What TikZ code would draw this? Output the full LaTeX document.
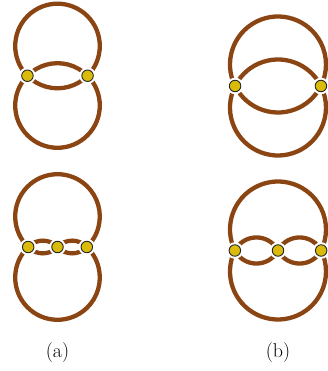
\documentclass[tikz,border=0pt]{standalone}
\usepackage{tikz}
\definecolor{edgebrown}{RGB}{139,69,19}
\definecolor{dotyellow}{RGB}{218,186,10}
\tikzset{
  edge/.style={draw=edgebrown, line width=4.3pt},
  vtx/.style={circle, fill=dotyellow, draw=black!85, line width=0.9pt,
    minimum size=11.5pt, inner sep=0pt, preaction={draw=white, line width=5pt}},
  lab/.style={font=\fontsize{20}{24}\selectfont, inner sep=0pt}
}
\begin{document}
\begin{tikzpicture}[x=1pt,y=1pt]
\useasboundingbox (0,0) rectangle (327,371);
% ---------- top left (a) ----------
\coordinate (a1) at (27.43,295.25);
\coordinate (a2) at (87.57,295.25);
\draw[edge] (a1) arc[start angle=224.69, end angle=-44.69, radius=42.3pt];
\draw[edge] (a1) arc[start angle=224.69, end angle=315.31, radius=42.3pt];
\draw[edge] (a1) arc[start angle=135.31, end angle=404.69, radius=42.3pt];
\draw[edge] (a1) arc[start angle=135.31, end angle=44.69, radius=42.3pt];
\node[vtx] (A1) at (a1) {};
\node[vtx] (A2) at (a2) {};
% ---------- top right (b) ----------
\coordinate (b1) at (235.08,285);
\coordinate (b2) at (320.92,285);
\draw[edge] (b1) arc[start angle=206.61, end angle=-26.61, radius=48pt];
\draw[edge] (b1) arc[start angle=206.61, end angle=333.39, radius=48pt];
\draw[edge] (b1) arc[start angle=153.39, end angle=386.61, radius=48pt];
\draw[edge] (b1) arc[start angle=153.39, end angle=26.61, radius=48pt];
\node[vtx] (B1) at (b1) {};
\node[vtx] (B2) at (b2) {};
% ---------- bottom left ----------
\coordinate (c1) at (28.19,124);
\coordinate (c2) at (57.5,124);
\coordinate (c3) at (86.81,124);
\draw[edge] (c1) arc[start angle=226.14, end angle=-46.14, radius=42.3pt];
\draw[edge] (c1) arc[start angle=133.86, end angle=406.14, radius=42.3pt];
\draw[edge] (c1) to[bend left=48] (c2);
\draw[edge] (c1) to[bend right=48] (c2);
\draw[edge] (c2) to[bend left=48] (c3);
\draw[edge] (c2) to[bend right=48] (c3);
\node[vtx] (C1) at (c1) {};
\node[vtx] (C2) at (c2) {};
\node[vtx] (C3) at (c3) {};
% ---------- bottom right ----------
\coordinate (d1) at (234.84,120.5);
\coordinate (d2) at (278,120.5);
\coordinate (d3) at (321.16,120.5);
\draw[edge] (d1) arc[start angle=205.94, end angle=-25.94, radius=48pt];
\draw[edge] (d1) arc[start angle=154.06, end angle=385.94, radius=48pt];
\draw[edge] (d1) to[bend left=62, looseness=1.17] (d2);
\draw[edge] (d1) to[bend right=62, looseness=1.17] (d2);
\draw[edge] (d2) to[bend left=62, looseness=1.17] (d3);
\draw[edge] (d2) to[bend right=62, looseness=1.17] (d3);
\node[vtx] (D1) at (d1) {};
\node[vtx] (D2) at (d2) {};
\node[vtx] (D3) at (d3) {};
% ---------- labels ----------
\node[lab] (la) at (57.5,18) {(a)};
\node[lab] (lb) at (278,18) {(b)};
\end{tikzpicture}
\end{document}
